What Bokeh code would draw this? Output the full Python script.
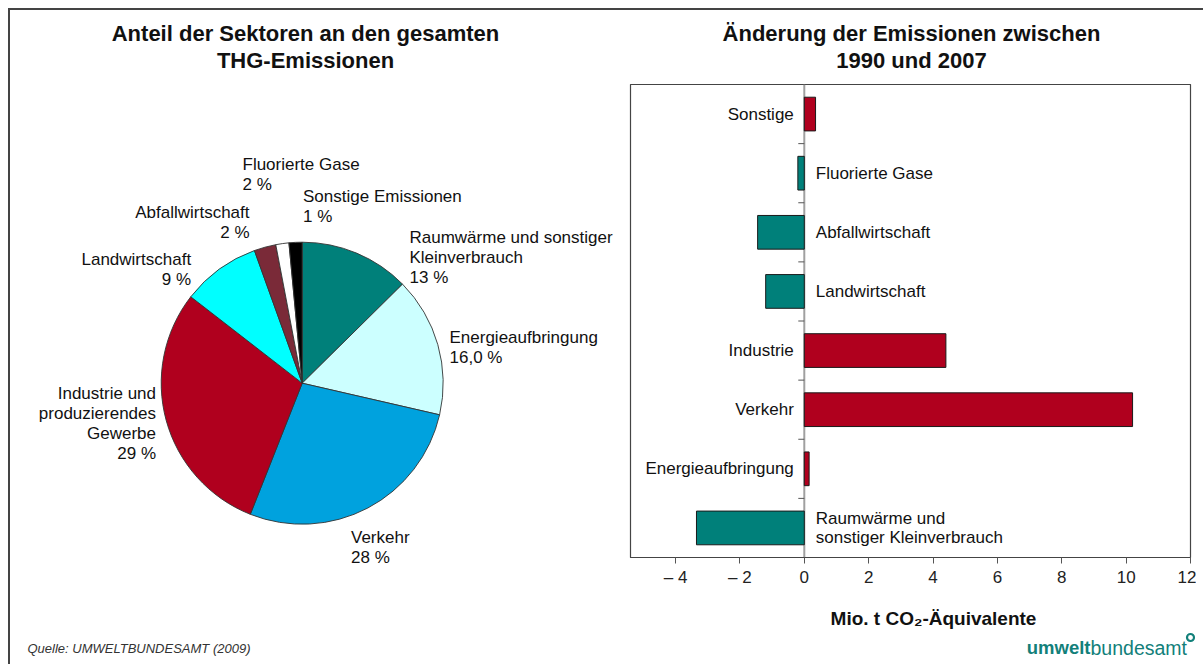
import math
from bokeh.plotting import figure
from bokeh.layouts import row, column
from bokeh.models import Range1d, FactorRange, FixedTicker, Span, ColumnDataSource
from bokeh.core.properties import value
from bokeh.embed import file_html
from bokeh.resources import INLINE

FONT = "Liberation Sans"
TXT = "#111111"

# ---------------- data: pie (share of sectors) ----------------
pie_sectors = ["Raumwärme und sonstiger Kleinverbrauch", "Energieaufbringung", "Verkehr",
               "Industrie und produzierendes Gewerbe", "Landwirtschaft", "Abfallwirtschaft",
               "Fluorierte Gase", "Sonstige Emissionen"]
pie_shares = [12.6, 16.0, 27.4, 29.5, 9.0, 2.5, 1.5, 1.5]
pie_pct_labels = ["13 %", "16,0 %", "28 %", "29 %", "9 %", "2 %", "2 %", "1 %"]
pie_label_text = ["Raumwärme und sonstiger\nKleinverbrauch", "Energieaufbringung", "Verkehr",
                  "Industrie und\nproduzierendes\nGewerbe", "Landwirtschaft", "Abfallwirtschaft",
                  "Fluorierte Gase", "Sonstige Emissionen"]
pie_colors = ["#00807A", "#CCFFFF", "#00A2DE", "#B0001E", "#00FFFF", "#7A2A38", "#FFFFFF", "#000000"]

# ---------------- data: bars (change 1990-2007) ----------------
bar_categories = ["Sonstige", "Fluorierte Gase", "Abfallwirtschaft", "Landwirtschaft",
                  "Industrie", "Verkehr", "Energieaufbringung",
                  "Raumwärme und sonstiger Kleinverbrauch"]
bar_label_text = ["Sonstige", "Fluorierte Gase", "Abfallwirtschaft", "Landwirtschaft",
                  "Industrie", "Verkehr", "Energieaufbringung",
                  "Raumwärme und\nsonstiger Kleinverbrauch"]
bar_values = [0.35, -0.2, -1.45, -1.2, 4.4, 10.2, 0.15, -3.35]
bar_ticks = [-4, -2, 0, 2, 4, 6, 8, 10, 12]
bar_tick_labels = ["– 4", "– 2", "0", "2", "4", "6", "8", "10", "12"]

# ---------------- layout (page pixel geometry) ----------------
LEFT, TOP = 10, 10                # content origin on the page (8px margin + 2px border)
PIE_W, RIGHT_W, H = 608, 578, 647
R_X0 = LEFT + PIE_W               # 618: left edge of right column
F_LEFT, F_RIGHT, F_TOP, F_BOT = 630, 1190, 84, 557   # bar frame on page
AXIS_H = 40
BOTTOM_H = H - (F_TOP - TOP) - (F_BOT - F_TOP) - AXIS_H


def canvas(width, height, x0, x1, ytop, ybot, **kw):
    """Figure whose data coordinates are page pixels (y as -page_y)."""
    f = figure(width=width, height=height, x_range=Range1d(x0, x1),
               y_range=Range1d(-ybot, -ytop), x_axis_location=None, y_axis_location=None,
               toolbar_location=None, output_backend="svg", outline_line_color=None, **kw)
    f.xgrid.visible = False
    f.ygrid.visible = False
    return f

# ================= PIE FIGURE =================
pie = canvas(PIE_W, H, LEFT, LEFT + PIE_W, TOP, TOP + H, min_border=0)

starts, ends = [], []
cum = 0.0
for s in pie_shares:
    starts.append(math.pi / 2 - 2 * math.pi * (cum + s) / 100.0)
    ends.append(math.pi / 2 - 2 * math.pi * cum / 100.0)
    cum += s
pie_src = ColumnDataSource(dict(sector=pie_sectors, start=starts, end=ends, color=pie_colors))
pie.wedge(x=301.7, y=-382.7, radius=141, start_angle="start", end_angle="end",
          direction="anticlock", fill_color="color", line_color="#333333", line_width=0.9,
          source=pie_src)

# label anchors (page coords): x, y of first line, alignment
pie_anchor = [(409, 237.3, "left"), (449, 337.3, "left"), (350.5, 536.7, "left"),
              (155.5, 393.3, "right"), (190.6, 259.0, "right"), (249.0, 212.3, "right"),
              (242.0, 164.0, "left"), (302.5, 196.0, "left")]
LINE = 20.0
tx, ty, tt, ta = [], [], [], []
for name, pct, (ax_, ay, al) in zip(pie_label_text, pie_pct_labels, pie_anchor):
    lines = name.split("\n") + [pct]
    for i, ln in enumerate(lines):
        tx.append(ax_); ty.append(-(ay + i * LINE)); tt.append(ln); ta.append(al)
pie.text(x=tx, y=ty, text=tt, text_align=ta, text_baseline="middle",
         text_font=value(FONT), text_font_size="17px", text_color=TXT)

pie.text(x=[305, 305], y=[-33, -59.5],
         text=["Anteil der Sektoren an den gesamten", "THG-Emissionen"],
         text_align="center", text_baseline="middle", text_font=value(FONT),
         text_font_size="22px", text_font_style="bold", text_color=TXT)

pie.text(x=[27], y=[-648], text=["Quelle: UMWELTBUNDESAMT (2009)"],
         text_align="left", text_baseline="middle", text_font=value(FONT),
         text_font_size="13px", text_font_style="italic", text_color="#333333")

# ================= BAR TITLE =================
top = canvas(RIGHT_W, F_TOP - TOP, R_X0, R_X0 + RIGHT_W, TOP, F_TOP, min_border=0)
top.text(x=[908, 908], y=[-33, -59.5],
         text=["Änderung der Emissionen zwischen", "1990 und 2007"],
         text_align="center", text_baseline="middle", text_font=value(FONT),
         text_font_size="22px", text_font_style="bold", text_color=TXT)

# ================= BAR FIGURE =================
X0, X1 = -5.4, 12.0
bar = figure(width=RIGHT_W, height=(F_BOT - F_TOP) + AXIS_H,
             y_range=FactorRange(factors=list(reversed(bar_categories))),
             x_range=Range1d(X0, X1), x_axis_location="below", y_axis_location=None,
             toolbar_location=None, output_backend="svg",
             min_border_left=F_LEFT - R_X0, min_border_right=R_X0 + RIGHT_W - F_RIGHT,
             min_border_top=0, min_border_bottom=AXIS_H,
             outline_line_color="#444444", outline_line_width=1.2)
bar.xgrid.visible = False
bar.ygrid.visible = False

bar.add_layout(Span(location=0, dimension="height", line_color="#A0A0A0", line_width=2,
                    level="underlay"))

colors = ["#B0001E" if v > 0 else "#00807A" for v in bar_values]
bsrc = ColumnDataSource(dict(cat=bar_categories, val=bar_values, color=colors))
bar.hbar(y="cat", left=0, right="val", height=0.57, fill_color="color",
         line_color="#1a1a1a", line_width=1, source=bsrc)

# small ticks at category boundaries on the zero line
bar.ray(x=[0] * (len(bar_categories) - 1), y=list(range(1, len(bar_categories))),
        length=6, length_units="screen", angle=math.pi, line_color="#555555", line_width=1)

lx, ly, lt, la, lo, lyo = [], [], [], [], [], []
for cat, lab, v in zip(bar_categories, bar_label_text, bar_values):
    lines = lab.split("\n")
    n = len(lines)
    for i, ln in enumerate(lines):
        lx.append(0); ly.append(cat); lt.append(ln)
        la.append("right" if v > 0 else "left")
        lo.append(-10.5 if v > 0 else 11.5)
        lyo.append((i - (n - 1) / 2) * 19.0)
lsrc = ColumnDataSource(dict(x=lx, y=ly, t=lt, a=la, o=lo, yo=lyo))
bar.text(x="x", y="y", text="t", text_align="a", x_offset="o", y_offset="yo",
         text_baseline="middle", text_font=value(FONT), text_font_size="17px",
         text_color=TXT, source=lsrc)

ax = bar.xaxis[0]
ax.ticker = FixedTicker(ticks=bar_ticks, minor_ticks=[])
ax.major_label_overrides = {t: l for t, l in zip(bar_ticks, bar_tick_labels)}
ax.major_tick_in = 0
ax.major_tick_out = 6
ax.minor_tick_line_color = None
ax.major_tick_line_color = "#555555"
ax.axis_line_color = "#444444"
ax.major_label_standoff = 4
ax.major_label_text_font = FONT
ax.major_label_text_font_size = "17px"
ax.major_label_text_color = "#222222"

# ================= AXIS TITLE + LOGO =================
B_TOP = F_BOT + AXIS_H
bot = canvas(RIGHT_W, BOTTOM_H, R_X0, R_X0 + RIGHT_W, B_TOP, B_TOP + BOTTOM_H, min_border=0)
bot.text(x=[933], y=[-618], text=["Mio. t CO₂-Äquivalente"], text_align="center",
         text_baseline="middle", text_font=value(FONT), text_font_size="19px",
         text_font_style="bold", text_color=TXT)
TEAL = "#12807A"
bot.text(x=[1090], y=[-647], text=["umwelt"], text_align="right", text_baseline="middle",
         text_font=value(FONT), text_font_size="18.5px", text_font_style="bold",
         text_color=TEAL)
bot.text(x=[1090], y=[-647], text=["bundesamt"], text_align="left", text_baseline="middle",
         text_font=value(FONT), text_font_size="19.5px", text_color=TEAL)
bot.scatter(x=[1190], y=[-637], marker="circle", size=7, fill_color="white",
            line_color=TEAL, line_width=2.2)

right = column(top, bar, row(bot, spacing=0), spacing=0)
layout = row(pie, right, spacing=0,
             styles={"margin-left": "8px", "margin-top": "8px",
                     "padding-right": "7px", "padding-bottom": "7px",
                     "border-top": "2px solid #444444", "border-left": "2px solid #444444"})
open("out.html", "w").write(file_html(layout, INLINE))
